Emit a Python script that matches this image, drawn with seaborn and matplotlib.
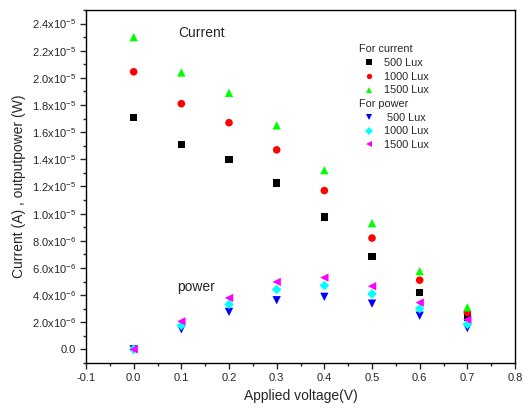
import numpy as np
import pandas as pd
import matplotlib
matplotlib.use('Agg')
import matplotlib.pyplot as plt
import seaborn as sns
from matplotlib.lines import Line2D
from matplotlib.ticker import MultipleLocator, FuncFormatter

# data
voltage = [0.0, 0.1, 0.2, 0.3, 0.4, 0.5, 0.6, 0.7]

current_500 = [17.06, 15.07, 13.96, 12.26, 9.75, 6.87, 4.20, 2.36]
current_1000 = [20.45, 18.10, 16.70, 14.70, 11.70, 8.20, 5.10, 2.73]
current_1500 = [23.00, 20.40, 18.90, 16.50, 13.20, 9.30, 5.76, 3.10]

power_500 = [0.0, 1.48, 2.76, 3.62, 3.87, 3.37, 2.48, 1.57]
power_1000 = [0.0, 1.77, 3.32, 4.41, 4.70, 4.09, 3.00, 1.85]
power_1500 = [0.0, 2.07, 3.79, 4.97, 5.29, 4.65, 3.45, 2.19]

series_names = ['I500', 'I1000', 'I1500', 'P500', 'P1000', 'P1500']
series_values = [current_500, current_1000, current_1500,
                 power_500, power_1000, power_1500]
colors = ['#000000', '#ff0000', '#00ff00', '#0000ff', '#00ffff', '#ff00ff']
markers = ['s', 'o', '^', 'v', 'D', '<']
sizes = [26, 30, 36, 36, 24, 36]

sns.set_style('white')
plt.rcParams['font.family'] = ['Liberation Sans', 'DejaVu Sans']
plt.rcParams['mathtext.fontset'] = 'custom'
plt.rcParams['mathtext.rm'] = 'Liberation Sans'
plt.rcParams['mathtext.it'] = 'Liberation Sans'

fig = plt.figure(figsize=(5.22, 4.12), dpi=100)
ax = fig.add_axes([0.1648, 0.119, 0.8218, 0.8567])

for name, vals, c, m, s in zip(series_names, series_values, colors, markers, sizes):
    df = pd.DataFrame({'V': voltage, 'y': np.array(vals) * 1e-6})
    sns.scatterplot(data=df, x='V', y='y', color=c, marker=m, s=s,
                    edgecolor='none', linewidth=0, ax=ax, legend=False)

ax.set_xlim(-0.1, 0.8)
ax.set_ylim(-1e-6, 2.5e-5)
ax.xaxis.set_major_locator(MultipleLocator(0.1))
ax.xaxis.set_minor_locator(MultipleLocator(0.05))
ax.yaxis.set_major_locator(MultipleLocator(2e-6))
ax.yaxis.set_minor_locator(MultipleLocator(1e-6))


def yfmt(v, pos):
    if abs(v) < 1e-12:
        return '0.0'
    exp = int(np.floor(np.log10(abs(v))))
    mant = v / 10 ** exp
    return r'%.1fx10$^{%d}$' % (mant, exp)


ax.yaxis.set_major_formatter(FuncFormatter(yfmt))
ax.xaxis.set_major_formatter(FuncFormatter(lambda v, p: '%.1f' % v))
ax.tick_params(axis='both', which='major', direction='out', length=4,
               width=1, labelsize=8, bottom=True, left=True, top=False, right=False)
ax.tick_params(axis='both', which='minor', direction='out', length=2,
               width=1, bottom=True, left=True, top=False, right=False)
for sp in ax.spines.values():
    sp.set_color('black')
    sp.set_linewidth(1)

ax.set_xlabel('Applied voltage(V)', fontsize=10)
ax.set_ylabel('Current (A) , outputpower (W)', fontsize=10)

ax.text(0.094, 23.3e-6, 'Current', fontsize=10, va='center', ha='left')
ax.text(0.092, 4.6e-6, 'power', fontsize=10, va='center', ha='left')

# legend with group headers
blank = Line2D([], [], linestyle='none', marker=None)
handles = [blank]
labels = ['For current']
for i, lab in enumerate(['500 Lux', '1000 Lux', '1500 Lux']):
    handles.append(Line2D([], [], linestyle='none', marker=markers[i],
                          color=colors[i], markersize=3.8, markeredgewidth=0))
    labels.append(lab)
handles.append(blank)
labels.append('For power')
for i, lab in enumerate([' 500 Lux', '1000 Lux', '1500 Lux']):
    handles.append(Line2D([], [], linestyle='none', marker=markers[i + 3],
                          color=colors[i + 3], markersize=3.8, markeredgewidth=0))
    labels.append(lab)

leg = ax.legend(handles, labels, loc='upper left', bbox_to_anchor=(0.632, 0.915),
                frameon=False, fontsize=7.8, handlelength=1.3, handletextpad=0.8,
                labelspacing=0.34, borderaxespad=0)
for vpack in leg._legend_handle_box.get_children():
    for hpack in vpack.get_children():
        txt = hpack.get_children()[1].get_children()[0]
        if txt.get_text().startswith('For'):
            hpack.get_children()[0].set_width(-8)

fig.savefig('out.png', dpi=100)
